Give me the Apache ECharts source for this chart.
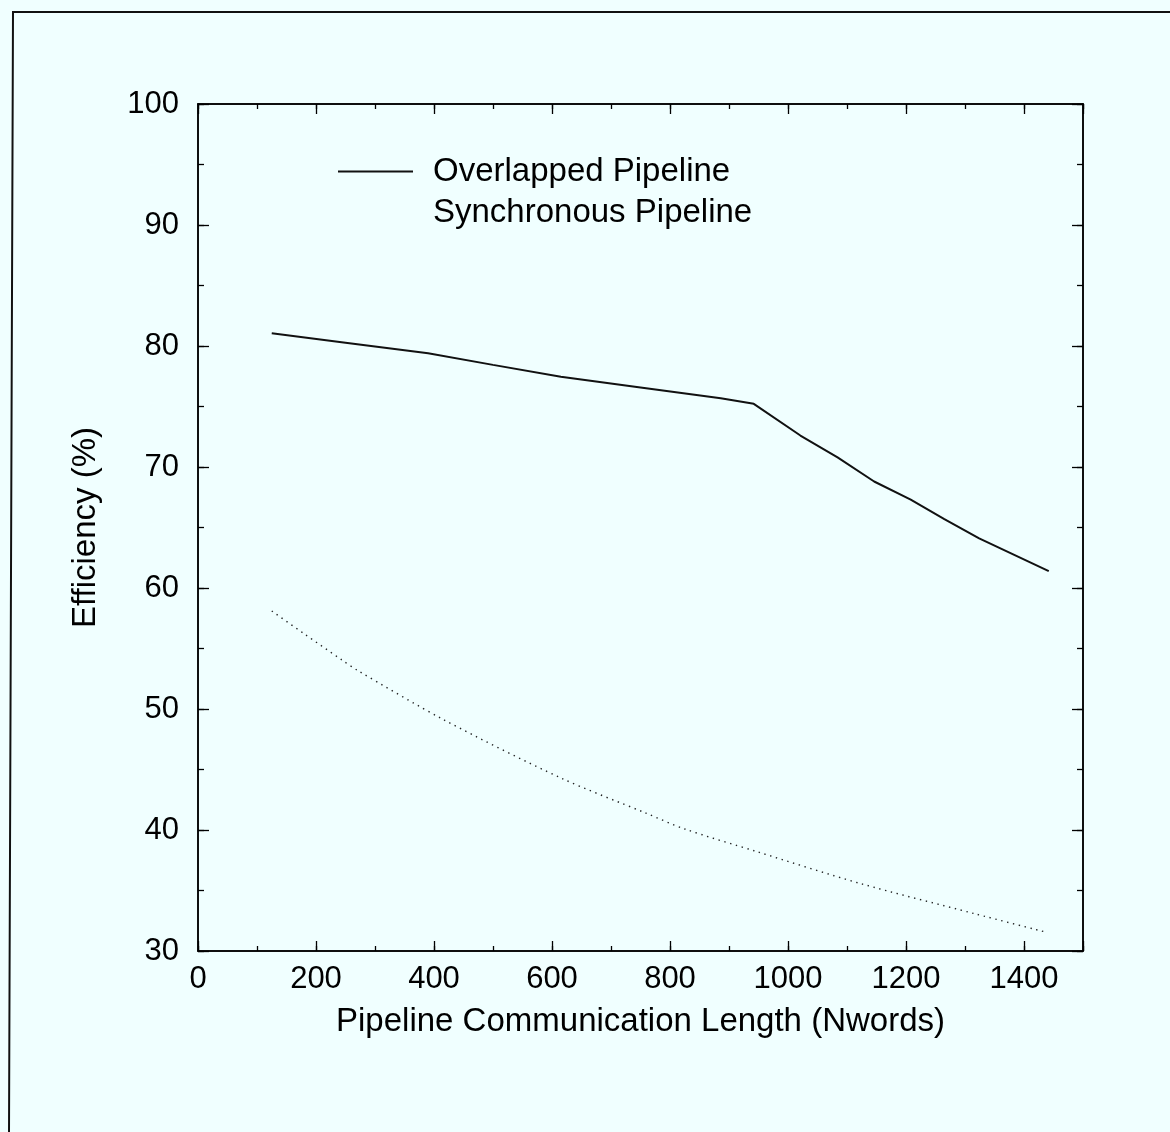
<!DOCTYPE html>
<html>
<head>
<meta charset="utf-8">
<title>Pipeline efficiency</title>
<script src="https://cdn.jsdelivr.net/npm/echarts@6/dist/echarts.min.js"></script>
<style>
  html, body { margin: 0; padding: 0; background: #f0ffff; }
  #chart { width: 1170px; height: 1132px; }
</style>
</head>
<body>
<div id="chart"></div>
<script>
// Efficiency vs. pipeline communication length
const overlappedX = [125, 250, 390, 500, 615, 750, 886, 942, 1021, 1084, 1146, 1208, 1265, 1324, 1442];
const overlappedY = [81.05, 80.27, 79.40, 78.44, 77.46, 76.57, 75.68, 75.22, 72.6, 70.8, 68.8, 67.3, 65.7, 64.1, 61.4];

const synchronousX = [125, 179, 244, 270, 417, 615, 759, 824, 948, 1121, 1315, 1434];
const synchronousY = [58.1, 56.25, 54.05, 53.2, 49.1, 44.3, 41.4, 40.1, 38.2, 35.6, 33.1, 31.6];

const seriesNames = ['Overlapped Pipeline', 'Synchronous Pipeline'];
const xAxisTitle = 'Pipeline Communication Length (Nwords)';
const yAxisTitle = 'Efficiency (%)';

const FONT = '"Liberation Sans", Arial, Helvetica, sans-serif';
const INK = '#000';

const zip = (xs, ys) => xs.map((x, i) => [x, ys[i]]);

// One frame side: line plus inward ticks; labels only on the main bottom/left axes
function frameAxis(kind, pos, interval, len, extra) {
  const ax = {
    type: 'value',
    position: pos,
    interval: interval,
    axisLine: { show: true, onZero: false, lineStyle: { color: INK, width: 1.5 } },
    axisTick: { show: true, inside: true, length: len, lineStyle: { color: INK, width: 1.3 } },
    splitLine: { show: false },
    axisLabel: { show: false }
  };
  if (kind === 'x') { ax.min = 0; ax.max = 1500; } else { ax.min = 30; ax.max = 100; }
  return Object.assign(ax, extra || {});
}

const chart = echarts.init(document.getElementById('chart'), null, { renderer: 'canvas' });

chart.setOption({
  backgroundColor: '#f0ffff',
  animation: false,
  grid: { left: 198, top: 104, right: 87, bottom: 181, containLabel: false },
  xAxis: [
    frameAxis('x', 'bottom', 200, 10, {
      axisLabel: { show: true, color: INK, fontFamily: FONT, fontSize: 31, margin: 13,
                   formatter: v => v === 1500 ? '' : String(v) },
      name: xAxisTitle, nameLocation: 'middle', nameGap: 54,
      nameTextStyle: { color: INK, fontFamily: FONT, fontSize: 33 }
    }),
    frameAxis('x', 'bottom', 100, 5),
    frameAxis('x', 'top', 200, 10),
    frameAxis('x', 'top', 100, 5)
  ],
  yAxis: [
    frameAxis('y', 'left', 10, 11, {
      axisLabel: { show: true, color: INK, fontFamily: FONT, fontSize: 31, margin: 19 },
      name: yAxisTitle, nameLocation: 'middle', nameGap: 96,
      nameTextStyle: { color: INK, fontFamily: FONT, fontSize: 33 }
    }),
    frameAxis('y', 'left', 5, 6),
    frameAxis('y', 'right', 10, 11),
    frameAxis('y', 'right', 5, 6)
  ],
  legend: {
    show: true,
    orient: 'vertical',
    left: 337,
    top: 155,
    padding: 0,
    itemWidth: 75,
    itemHeight: 32,
    itemGap: 8,
    itemStyle: { opacity: 0 },
    textStyle: { color: INK, fontFamily: FONT, fontSize: 33, padding: [0, 0, 0, 15] },
    data: [
      { name: seriesNames[0] },
      { name: seriesNames[1], lineStyle: { opacity: 0 } }
    ]
  },
  series: [
    {
      name: seriesNames[0],
      type: 'line',
      xAxisIndex: 0, yAxisIndex: 0,
      data: zip(overlappedX, overlappedY),
      symbol: 'none',
      lineStyle: { color: '#111', width: 2 },
      itemStyle: { color: '#111' }
    },
    {
      name: seriesNames[1],
      type: 'line',
      xAxisIndex: 0, yAxisIndex: 0,
      data: zip(synchronousX, synchronousY),
      symbol: 'none',
      smooth: 0.3,
      lineStyle: { color: '#222', width: 1.4, type: [1.4, 4.6] },
      itemStyle: { color: '#222' }
    }
  ],
  graphic: [
    {
      type: 'polyline',
      silent: true,
      shape: { points: [[1172, 12], [13, 12], [9, 1134]] },
      style: { stroke: '#111', lineWidth: 2, fill: null }
    }
  ]
});
</script>
</body>
</html>
